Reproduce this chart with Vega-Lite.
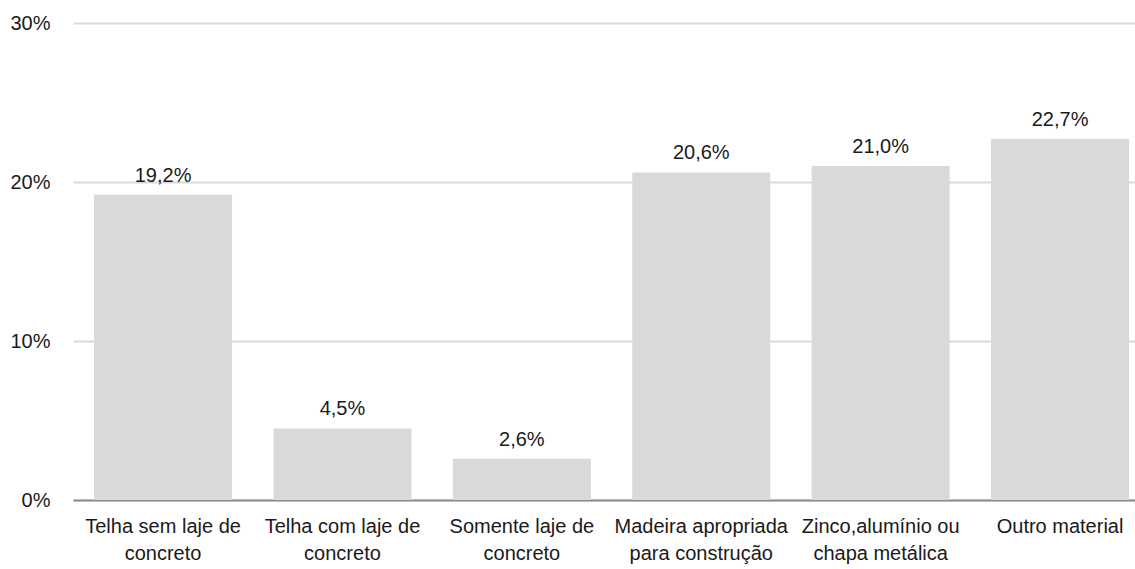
{
  "$schema": "https://vega.github.io/schema/vega-lite/v6.json",
  "autosize": {"type": "none"},
  "width": 1062,
  "height": 477,
  "padding": {"left": 73, "top": 23, "right": 0, "bottom": 69},
  "background": "#ffffff",
  "config": {
    "locale": {"number": {"decimal": ",", "thousands": ".", "grouping": [3], "currency": ["R$", ""]}},
    "view": {"stroke": null},
    "font": "Liberation Sans"
  },
  "data": {
    "values": [
      {"material": "Telha sem laje de\nconcreto", "valor": 0.192},
      {"material": "Telha com laje de\nconcreto", "valor": 0.045},
      {"material": "Somente laje de\nconcreto", "valor": 0.026},
      {"material": "Madeira apropriada\npara construção", "valor": 0.206},
      {"material": "Zinco,alumínio ou\nchapa metálica", "valor": 0.210},
      {"material": "Outro material", "valor": 0.227}
    ]
  },
  "encoding": {
    "x": {
      "field": "material",
      "type": "nominal",
      "sort": null,
      "scale": {"paddingInner": 0.2308, "paddingOuter": 0.0753, "align": 0.78},
      "axis": {
        "title": null,
        "labelAngle": 0,
        "labelExpr": "split(datum.label, '\\n')",
        "labelFont": "Liberation Sans",
        "labelFontSize": 20,
        "labelColor": "#1a1a1a",
        "labelLineHeight": 27,
        "labelPadding": 16,
        "ticks": false,
        "domainColor": "#8c8c8c",
        "domainWidth": 2,
        "labelLimit": 300
      }
    },
    "y": {
      "field": "valor",
      "type": "quantitative",
      "scale": {"domain": [0, 0.3], "nice": false},
      "axis": {
        "title": null,
        "values": [0, 0.1, 0.2, 0.3],
        "format": ".0%",
        "labelFont": "Liberation Sans",
        "labelFontSize": 20,
        "labelColor": "#1a1a1a",
        "labelPadding": 23,
        "ticks": false,
        "domain": false,
        "gridColor": "#d9d9d9",
        "gridWidth": 2
      }
    }
  },
  "layer": [
    {"mark": {"type": "bar", "color": "#d9d9d9"}},
    {
      "mark": {"type": "text", "baseline": "bottom", "dy": -9, "fontSize": 20, "font": "Liberation Sans", "color": "#1a1a1a"},
      "encoding": {"text": {"field": "valor", "type": "quantitative", "format": ".1%"}}
    }
  ]
}
